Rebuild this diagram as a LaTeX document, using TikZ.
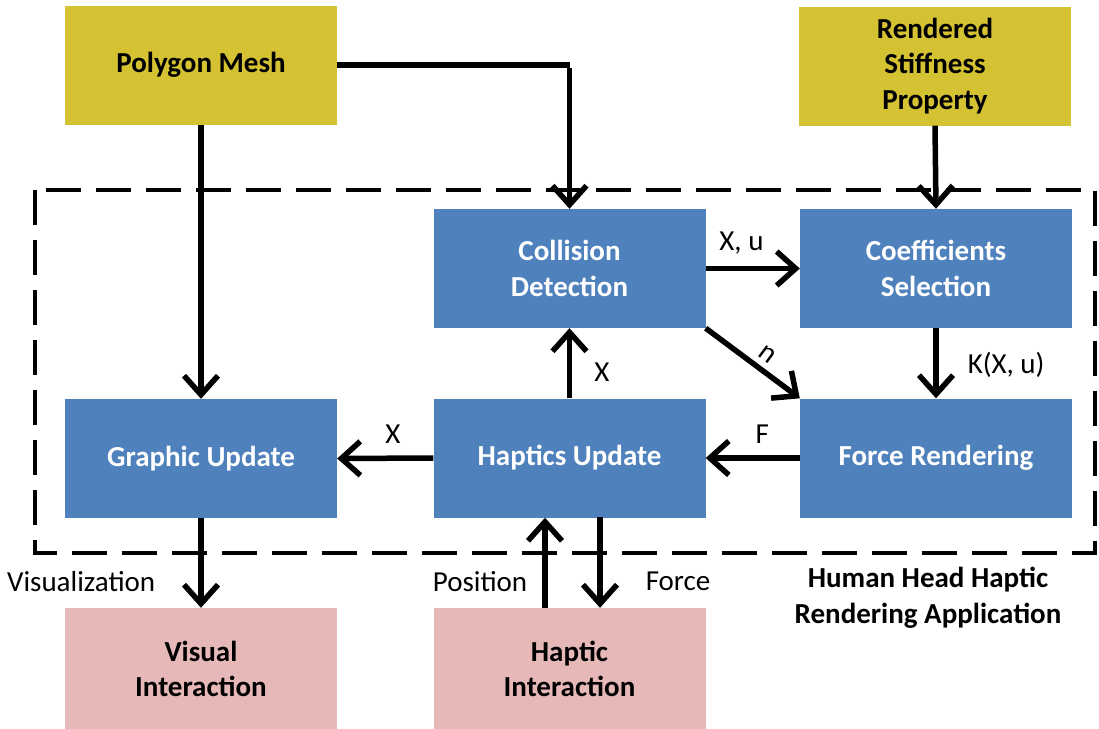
\documentclass[tikz,border=0pt]{standalone}
\usepackage{fontspec}
\setmainfont{Carlito}
\usetikzlibrary{arrows.meta,positioning}
\definecolor{olive}{HTML}{D4C232}
\definecolor{steel}{HTML}{4F81BD}
\definecolor{rose}{HTML}{E6B9B8}
\tikzset{
  box/.style={rectangle, minimum width=272pt, minimum height=119pt, inner sep=0pt,
    align=center, font=\fontsize{29}{35.5}\selectfont\bfseries},
  inbox/.style={box, fill=olive, text=black},
  procbox/.style={box, fill=steel, text=white},
  outbox/.style={box, fill=rose, text=black},
  flow/.style={line width=5.5pt, -{Straight Barb[length=19pt,width=34pt]}},
  lbl/.style={font=\fontsize{29}{35}\selectfont, inner sep=0pt},
  frame/.style={line width=4pt, dash pattern=on 35pt off 15pt}
}
\begin{document}
\begin{tikzpicture}[x=1pt,y=-1pt]
\useasboundingbox (0,0) rectangle (1099,728);
% application boundary
\draw[frame] (35,190) rectangle (1095,553);
% inputs
\node[inbox] (mesh) at (201,65) {Polygon Mesh};
\node[inbox] (stiff) at (935,66) {Rendered\\Stiffness\\Property};
% processing blocks
\node[procbox] (coll) at (569.5,268.5) {Collision\\Detection};
\node[procbox] (coef) at (936,268.5) {Coefficients\\Selection};
\node[procbox] (graph) at (201,458.5) {Graphic Update};
\node[procbox] (hapt) at (569.5,458) {Haptics Update};
\node[procbox] (force) at (936,458) {Force Rendering};
% user side
\node[outbox, minimum height=122pt] (visual) at (201,669) {Visual\\Interaction};
\node[outbox, minimum height=122pt] (haptic) at (569.5,669) {Haptic\\Interaction};
% flows
\coordinate (bend) at (569.5,65);
\draw[line width=5.5pt] (mesh.east) -- (bend);
\draw[flow] ([yshift=-2.75pt]bend) -- (coll.north);
\draw[flow] (mesh.south) -- (graph.north);
\draw[flow] (stiff.south) -- (coef.north);
\draw[flow] (coll.east) -- node[lbl, pos=0.38, anchor=south, yshift=12pt] {X, u} (coef.west);
\draw[flow] (coll.south east) -- node[lbl, pos=0.55, sloped, rotate=180, anchor=north, yshift=-6pt] {u} (force.north west);
\draw[flow] (coef.south) -- node[lbl, pos=0.53, anchor=west, xshift=29pt] {K(X, u)} (force.north);
\draw[flow] (force.west) -- node[lbl, pos=0.4, anchor=south, yshift=12pt] {F} (hapt.east);
\draw[flow] (hapt.north) -- node[lbl, pos=0.37, anchor=west, xshift=22pt] {X} (coll.south);
\draw[flow] (hapt.west) -- node[lbl, pos=0.42, anchor=south, yshift=12pt] {X} (graph.east);
\draw[flow] (graph.south) -- node[lbl, pos=0.71, anchor=east, xshift=-43pt] {Visualization} (visual.north);
\coordinate (posA) at (545,608);
\coordinate (forA) at (600,517);
\draw[flow] (posA) -- node[lbl, pos=0.29, anchor=east, xshift=-15pt] {Position} (posA |- hapt.south);
\draw[flow] (forA) -- node[lbl, pos=0.71, anchor=west, xshift=43pt] {Force} (forA |- haptic.north);
% caption of the boundary
\node[font=\fontsize{29}{35.5}\selectfont\bfseries, align=center] (cap) at (928,598) {Human Head Haptic\\Rendering Application};
\end{tikzpicture}
\end{document}
